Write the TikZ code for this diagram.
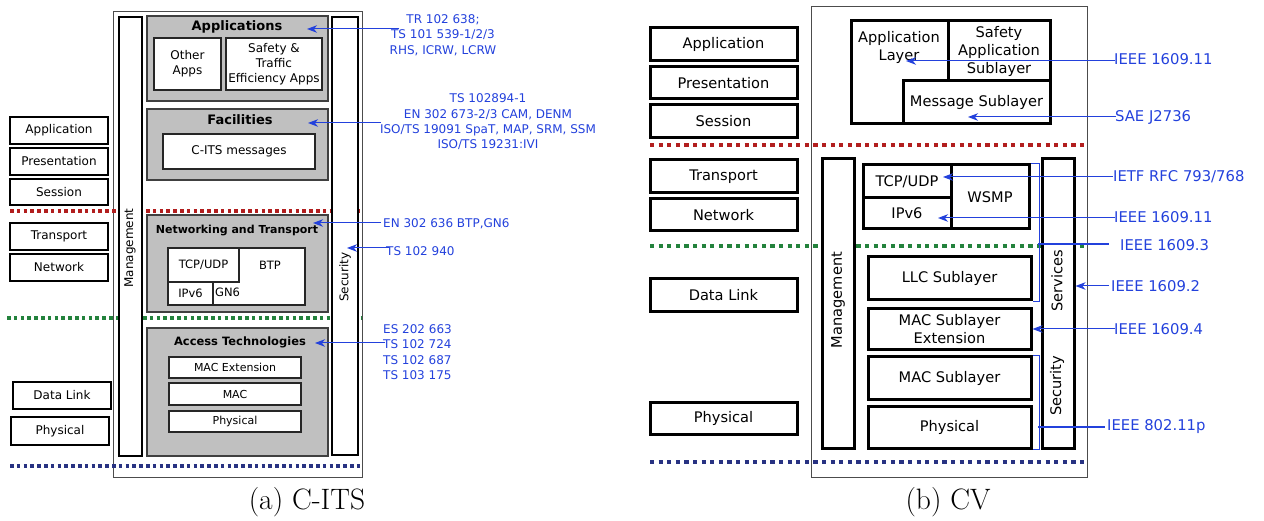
\documentclass[tikz,border=0pt]{standalone}
\usepackage{fontspec}
\newfontfamily\dejavu{DejaVu Sans}
\usetikzlibrary{arrows.meta}

\definecolor{refblue}{RGB}{35,65,220}
\definecolor{sepred}{RGB}{178,30,30}
\definecolor{sepgreen}{RGB}{35,130,60}
\definecolor{sepblue}{RGB}{40,50,130}
\definecolor{layergray}{RGB}{192,192,192}

\begin{document}
\begin{tikzpicture}[x=1pt,y=-1pt]
			\tikzstyle{Frame}	= [draw=black!70, line width=0.9pt, inner sep=0pt]
			\tikzstyle{OSIa}	= [draw, line width=2.8pt, fill=white, inner sep=0pt, minimum width=98pt, minimum height=27pt, font=\dejavu\fontsize{12}{14}\selectfont]
			\tikzstyle{OSIb}	= [draw, line width=3pt, fill=white, inner sep=0pt, minimum width=147pt, minimum height=33pt, font=\dejavu\fontsize{14.6}{18}\selectfont]
			\tikzstyle{Bar}		= [draw, line width=2pt, fill=white, inner sep=0pt]
			\tikzstyle{BarB}	= [draw, line width=3pt, fill=white, inner sep=0pt]
			\tikzstyle{Group}	= [draw=black!75, line width=1.4pt, fill=layergray, inner sep=0pt]
			\tikzstyle{Inner}	= [draw=black!85, line width=1.2pt, fill=white, inner sep=0pt, align=center, font=\dejavu\fontsize{12}{15}\selectfont]
			\tikzstyle{Sub}		= [draw, line width=3pt, fill=white, inner sep=0pt, align=center, font=\dejavu\fontsize{14.6}{18}\selectfont]
			\tikzstyle{Title}	= [inner sep=0pt, font=\dejavu\bfseries\fontsize{13}{15}\selectfont]
			\tikzstyle{Txt}		= [inner sep=0pt, align=center, font=\dejavu\fontsize{12}{15}\selectfont]
			\tikzstyle{TxtB}	= [inner sep=0pt, align=center, font=\dejavu\fontsize{14.6}{18}\selectfont]
			\tikzstyle{RefA}	= [text=refblue, inner sep=2pt, align=center, font=\dejavu\fontsize{12}{15.3}\selectfont]
			\tikzstyle{RefB}	= [text=refblue, inner sep=2pt, anchor=west, font=\dejavu\fontsize{14.8}{18}\selectfont]
			\tikzstyle{Ref}		= [draw=refblue, line width=1pt, -{Stealth[length=10pt,width=7.5pt,inset=3pt]}]
			\tikzstyle{Brk}		= [draw=refblue, line width=1.3pt]
			\tikzstyle{SepA}	= [line width=3.4pt, dash pattern=on 3.6pt off 3.2pt]
			\tikzstyle{SepB}	= [line width=3.6pt, dash pattern=on 4.2pt off 4.4pt]

			\useasboundingbox (0,0) rectangle (1264,521);

			% (a) C-ITS
			\node (frameA) at (237.5,244) [Frame, minimum width=249pt, minimum height=466pt] {};
			\draw [SepA, sepred] (10,211) -- (362,211);
			\draw [SepA, sepgreen] (7,318) -- (362,318);
			\draw [SepA, sepblue] (10,466) -- (362,466);

			\node (aApp) at (59,130.5) [OSIa] {Application};
			\node (aPres) at (59,161.5) [OSIa] {Presentation};
			\node (aSes) at (59,192) [OSIa, minimum height=26pt] {Session};
			\node (aTra) at (59,236.5) [OSIa] {Transport};
			\node (aNet) at (59,267.5) [OSIa] {Network};
			\node (aDL) at (62,395.5) [OSIa] {Data Link};
			\node (aPhy) at (60,431) [OSIa, minimum height=28pt] {Physical};

			\node (aMgmt) at (130.5,236.5) [Bar, minimum width=23pt, minimum height=439pt] {};
			\node (aMgmtT) at (130,248) [Txt, rotate=90] {Management};
			\node (aSec) at (345,236) [Bar, minimum width=26pt, minimum height=438pt] {};
			\node (aSecT) at (345,277) [Txt, rotate=90] {Security};

			\node (aApps) at (237.5,58.5) [Group, minimum width=181pt, minimum height=85pt] {};
			\node (aAppsT) at (237,27) [Title] {Applications};
			\node (aOther) at (187.5,64) [Inner, minimum width=67pt, minimum height=52pt] {Other\\Apps};
			\node (aSafe) at (274,64) [Inner, minimum width=96pt, minimum height=52pt] {Safety \&\\Traffic\\Efficiency Apps};

			\node (aFac) at (237.5,144.5) [Group, minimum width=181pt, minimum height=71pt] {};
			\node (aFacT) at (240,120) [Title] {Facilities};
			\node (aMsg) at (239,151.5) [Inner, minimum width=152pt, minimum height=35pt] {C-ITS messages};

			\node (aNT) at (237.5,263.5) [Group, minimum width=181pt, minimum height=97pt] {};
			\node (aNTT) at (237,231) [Title, font=\dejavu\bfseries\fontsize{11}{13}\selectfont] {Networking and Transport};
			\node (aStack) at (236.5,276.5) [Inner, minimum width=137pt, minimum height=57pt] {};
			\node (aTcp) at (203.5,265) [Inner, minimum width=71pt, minimum height=34pt, font=\dejavu\fontsize{11.5}{14}\selectfont] {TCP/UDP};
			\node (aIp) at (190.5,293.5) [Inner, minimum width=45pt, minimum height=23pt, font=\dejavu\fontsize{11.5}{14}\selectfont] {IPv6};
			\node (aGn) at (215,292) [Txt, anchor=west, font=\dejavu\fontsize{11.5}{14}\selectfont] {GN6};
			\node (aBtp) at (270,265) [Txt, font=\dejavu\fontsize{11.5}{14}\selectfont] {BTP};

			\node (aAcc) at (237.5,392) [Group, minimum width=181pt, minimum height=128pt] {};
			\node (aAccT) at (240,342) [Title, font=\dejavu\bfseries\fontsize{11.5}{13}\selectfont] {Access Technologies};
			\node (aMacX) at (235,367.5) [Inner, minimum width=132pt, minimum height=21pt, font=\dejavu\fontsize{11}{13}\selectfont] {MAC Extension};
			\node (aMac) at (235,394) [Inner, minimum width=132pt, minimum height=22pt, font=\dejavu\fontsize{11}{13}\selectfont] {MAC};
			\node (aPhyL) at (235,421.5) [Inner, minimum width=132pt, minimum height=21pt, font=\dejavu\fontsize{11}{13}\selectfont] {Physical};

			\node (rApps) at (443,35) [RefA] {TR 102 638;\\TS 101 539-1/2/3\\RHS, ICRW, LCRW};
			\node (rFac) at (488,122) [RefA] {TS 102894-1\\EN 302 673-2/3 CAM, DENM\\ISO/TS 19091 SpaT, MAP, SRM, SSM\\ISO/TS 19231:IVI};
			\node (rNT) at (381,224) [RefA, anchor=west] {EN 302 636 BTP,GN6};
			\node (rSec) at (384,251) [RefA, anchor=west] {TS 102 940};
			\node (rAcc) at (381,352) [RefA, anchor=west, align=left] {ES 202 663\\TS 102 724\\TS 102 687\\TS 103 175};

			\coordinate (tApps) at (307,29);
			\coordinate (tFac) at (308,123);
			\coordinate (tNT) at (313,223);
			\coordinate (tSec) at (347,248);
			\coordinate (tAcc) at (315,343);
			\draw [Ref, shorten <=-12pt] (rApps.west |- tApps) -- (tApps);
			\draw [Ref, shorten <=-3pt] (rFac.west |- tFac) -- (tFac);
			\draw [Ref] (rNT.west |- tNT) -- (tNT);
			\draw [Ref, shorten <=-5pt] (rSec.west |- tSec) -- (tSec);
			\draw [Ref, shorten <=-4pt] (rAcc.west |- tAcc) -- (tAcc);

			\node (capA) at (307,502) [font=\fontsize{29.5}{34}\selectfont] {(a) C-ITS};

			% (b) CV
			\node (frameB) at (949,241.5) [Frame, minimum width=276pt, minimum height=471pt] {};
			\draw [SepB, sepred] (650,145) -- (1087,145);
			\draw [SepB, sepgreen] (650,246) -- (1087,246);
			\draw [SepB, sepblue] (650,462) -- (1087,462);

			\node (bApp) at (723.5,44.5) [OSIb] {Application};
			\node (bPres) at (723.5,83) [OSIb, minimum height=32pt] {Presentation};
			\node (bSes) at (723.5,121.5) [OSIb] {Session};
			\node (bTra) at (723.5,176.5) [OSIb] {Transport};
			\node (bNet) at (723.5,215) [OSIb, minimum height=32pt] {Network};
			\node (bDL) at (723.5,295.5) [OSIb] {Data Link};
			\node (bPhy) at (723.5,418) [OSIb, minimum height=32pt] {Physical};

			\node (bAppL) at (950.5,72.5) [Sub, minimum width=199pt, minimum height=103pt] {};
			\node (bAppLT) at (899,47) [TxtB] {Application\\Layer};
			\node (bSafe) at (999,51) [Sub, minimum width=102pt, minimum height=60pt] {Safety\\Application\\Sublayer};
			\node (bMsg) at (976.5,102.5) [Sub, minimum width=147pt, minimum height=43pt] {Message Sublayer};

			\node (bMgmt) at (838,303.5) [BarB, minimum width=32pt, minimum height=289pt] {};
			\node (bMgmtT) at (838,300) [TxtB, rotate=90] {Management};
			\node (bSvc) at (1058,303.5) [BarB, minimum width=32pt, minimum height=289pt] {};
			\node (bSvcT) at (1057,281) [TxtB, rotate=90] {Services};
			\node (bSecT) at (1057,386) [TxtB, rotate=90] {Security};

			\node (bTcp) at (907,181.5) [Sub, minimum width=88pt, minimum height=33pt] {TCP/UDP};
			\node (bIp) at (907,213.5) [Sub, minimum width=88pt, minimum height=31pt] {IPv6};
			\node (bWsmp) at (990,197) [Sub, minimum width=78pt, minimum height=64pt] {WSMP};
			\node (bLlc) at (949.5,278.5) [Sub, minimum width=163pt, minimum height=43pt] {LLC Sublayer};
			\node (bMacX) at (949.5,329.5) [Sub, minimum width=163pt, minimum height=41pt] {MAC Sublayer\\Extension};
			\node (bMac) at (949.5,378) [Sub, minimum width=163pt, minimum height=42pt] {MAC Sublayer};
			\node (bPhyL) at (949.5,427) [Sub, minimum width=163pt, minimum height=42pt] {Physical};

			\node (rAppB) at (1112,59) [RefB] {IEEE 1609.11};
			\node (rMsgB) at (1113,117) [RefB] {SAE J2736};
			\node (rTcpB) at (1111,177) [RefB] {IETF RFC 793/768};
			\node (rIpB) at (1112,217) [RefB] {IEEE 1609.11};
			\node (rNetB) at (1118,245) [RefB] {IEEE 1609.3};
			\node (rSvcB) at (1109,286) [RefB] {IEEE 1609.2};
			\node (rMacB) at (1112,329) [RefB] {IEEE 1609.4};
			\node (rPhyB) at (1105,427) [RefB] {IEEE 802.11p};

			\coordinate (tAppB) at (906,61);
			\coordinate (tMsgB) at (968,117);
			\coordinate (tTcpB) at (943,177);
			\coordinate (tIpB) at (938,218);
			\draw [Ref, shorten <=-3pt] (rAppB.west |- tAppB) -- (tAppB);
			\draw [Ref, shorten <=-3pt] (rMsgB.west) -- (tMsgB);
			\draw [Ref, shorten <=-2pt] (rTcpB.west) -- (tTcpB);
			\draw [Ref, shorten <=-3pt] (rIpB.west |- tIpB) -- (tIpB);
			\draw [Ref] (rSvcB.west) -- (bSvc.east |- rSvcB.west);
			\draw [Ref, shorten <=-3pt] (rMacB.west) -- (bMacX.east |- rMacB.west);

			\draw [Brk] (bWsmp.north east) -- ++(9,0) |- (bLlc.south east);
			\draw [Brk] (bMac.north east) -- ++(7,0) |- (bPhyL.south east);
			\coordinate (kTop) at (1038,244);
			\coordinate (kBot) at (1038,427);
			\draw [Brk, shorten >=9pt] (kTop) -- (kTop -| rNetB.west);
			\draw [Brk] (kBot) -- (rPhyB.west);

			\node (capB) at (948,502) [font=\fontsize{29.5}{34}\selectfont] {(b) CV};
		\end{tikzpicture}
\end{document}
